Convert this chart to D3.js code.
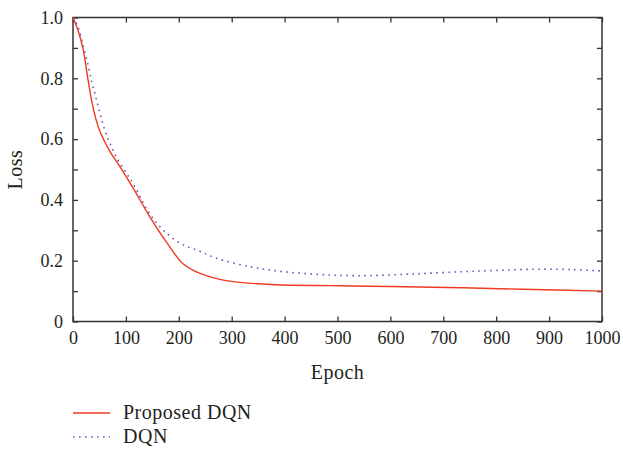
<!DOCTYPE html>
<html><head><meta charset="utf-8">
<script src="https://cdn.jsdelivr.net/npm/d3@7"></script>
<style>body{margin:0;background:#fff}svg{display:block}text{font-family:"Liberation Serif","Times New Roman",serif;fill:#231f20}</style>
</head><body><svg id="c" width="623" height="451"></svg>
<script>
const epochsProposed = [0, 10, 19, 28, 35, 43, 51, 70, 89, 114, 145, 177, 208, 240, 270, 303, 350, 397, 486, 524, 600, 737, 850, 1000];
const lossProposed   = [1.0, 0.955, 0.897, 0.80, 0.728, 0.668, 0.625, 0.559, 0.509, 0.438, 0.345, 0.26, 0.19, 0.158, 0.142, 0.131, 0.124, 0.12, 0.118, 0.117, 0.115, 0.111, 0.106, 0.1];
const epochsDQN = [0, 9.5, 19, 28, 35, 42, 51, 60, 70, 83, 101, 117, 145, 177, 208, 240, 271, 335, 397, 486, 524, 561, 650, 737, 800, 877, 940, 1000];
const lossDQN   = [1.0, 0.969, 0.908, 0.848, 0.79, 0.745, 0.685, 0.63, 0.586, 0.537, 0.488, 0.443, 0.354, 0.29, 0.252, 0.231, 0.208, 0.18, 0.164, 0.153, 0.151, 0.151, 0.157, 0.164, 0.168, 0.172, 0.171, 0.166];
const xTicks = [0,100,200,300,400,500,600,700,800,900,1000];
const yTicks = [0,0.1,0.2,0.3,0.4,0.5,0.6,0.7,0.8,0.9,1.0];
const yLabels = [0,0.2,0.4,0.6,0.8,1.0];
const seriesNames = ["Proposed DQN","DQN"];

const svg = d3.select("#c");
const L=73,R=602,T=17.5,B=321.5;
const x = d3.scaleLinear().domain([0,1000]).range([L,R]);
const y = d3.scaleLinear().domain([0,1]).range([B,T]);
const axisColor="#333";

function styleAxis(g){ g.select(".domain").remove(); g.selectAll("line").attr("stroke",axisColor).attr("stroke-width",1.3); g.selectAll("text").attr("font-size",18).style("font-family","Liberation Serif, serif").attr("fill","#231f20"); }

svg.append("g").attr("transform",`translate(0,${B})`)
  .call(d3.axisBottom(x).tickValues(xTicks).tickSizeInner(-5).tickSizeOuter(0).tickPadding(10).tickFormat(d3.format("d")))
  .call(styleAxis);
svg.append("g").attr("transform",`translate(0,${T})`)
  .call(d3.axisTop(x).tickValues(xTicks).tickSizeInner(-5).tickSizeOuter(0).tickFormat(""))
  .call(styleAxis);
svg.append("g").attr("transform",`translate(${L},0)`)
  .call(d3.axisLeft(y).tickValues(yTicks).tickSizeInner(-5).tickSizeOuter(0).tickPadding(10)
    .tickFormat(d=> yLabels.some(v=>Math.abs(v-d)<1e-9) ? (d===0?"0":d3.format(".1f")(d)) : ""))
  .call(styleAxis);
svg.append("g").attr("transform",`translate(${R},0)`)
  .call(d3.axisRight(y).tickValues(yTicks).tickSizeInner(-5).tickSizeOuter(0).tickFormat(""))
  .call(styleAxis);
svg.append("rect").attr("x",L).attr("y",T).attr("width",R-L).attr("height",B-T)
  .attr("fill","none").attr("stroke",axisColor).attr("stroke-width",1.5);

const line = d3.line().curve(d3.curveCatmullRom.alpha(0.5));
const pProp = epochsProposed.map((e,i)=>[x(e),y(lossProposed[i])]);
const pDQN = epochsDQN.map((e,i)=>[x(e),y(lossDQN[i])]);
svg.append("path").attr("d",line(pDQN)).attr("fill","none").attr("stroke","#7b4fbf").attr("stroke-width",1.6).attr("stroke-dasharray","1.6,4.4");
svg.append("path").attr("d",line(pProp)).attr("fill","none").attr("stroke","#ee3a1f").attr("stroke-width",1.4);

svg.append("text").attr("x",(L+R)/2).attr("y",379).attr("text-anchor","middle").attr("font-size",20).attr("letter-spacing",0.5).text("Epoch");
svg.append("text").attr("transform",`translate(22,${(T+B)/2}) rotate(-90)`).attr("text-anchor","middle").attr("font-size",20).attr("letter-spacing",0.5).text("Loss");

const leg = svg.append("g");
leg.append("line").attr("x1",73).attr("x2",110).attr("y1",413).attr("y2",413).attr("stroke","#ee3a1f").attr("stroke-width",1.4);
leg.append("line").attr("x1",73).attr("x2",110).attr("y1",437).attr("y2",437).attr("stroke","#7b4fbf").attr("stroke-width",1.6).attr("stroke-dasharray","1.6,4.4");
leg.append("text").attr("x",123).attr("y",419).attr("font-size",20).attr("letter-spacing",0.5).text(seriesNames[0]);
leg.append("text").attr("x",123).attr("y",443).attr("font-size",20).attr("letter-spacing",0.5).text(seriesNames[1]);
</script></body></html>
